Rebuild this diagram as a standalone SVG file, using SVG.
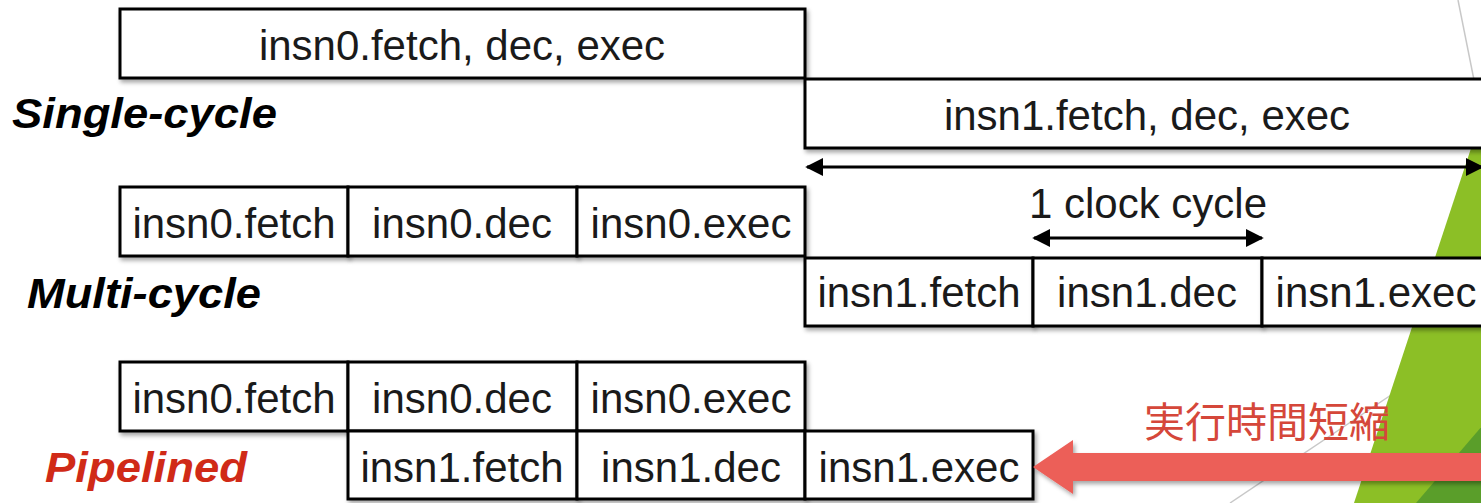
<svg xmlns="http://www.w3.org/2000/svg" width="1481" height="503" viewBox="0 0 1481 503">
<style>
.box{fill:#fff;stroke:#000;stroke-width:3;filter:url(#sh)}
.t{font-family:"Liberation Sans",Arial,sans-serif;font-size:42px;fill:#1a1a1a;text-anchor:middle}
.lbl{font-family:"Liberation Sans",Arial,sans-serif;font-size:43px;font-weight:bold;font-style:italic}
.conn{stroke:#000;stroke-width:3;fill:none}
</style>
<defs>
<filter id="sh" x="-10%" y="-20%" width="120%" height="150%">
<feDropShadow dx="2" dy="3" stdDeviation="2" flood-color="#000" flood-opacity="0.35"/>
</filter>
<marker id="ah" viewBox="0 0 10 10" refX="9" refY="5" markerWidth="6" markerHeight="6" orient="auto-start-reverse" markerUnits="strokeWidth">
<path d="M0,0 L10,5 L0,10 Z" fill="#000"/>
</marker>
</defs>
<g id="background">
<rect x="0" y="0" width="1481" height="503" fill="#fff"/>
<line x1="1458" y1="0" x2="1476" y2="90" stroke="#c8c8c8" stroke-width="1.5"/>
<line x1="1230" y1="503" x2="1400" y2="389" stroke="#c8c8c8" stroke-width="1.5"/>
<polygon points="1483,112 1483,503 1354,503" fill="#8cbf26"/>
<polygon points="1483,425 1483,503 1416,503" fill="#5a9e2a"/>
</g>
<g id="labels">
<text class="lbl" x="12" y="128" fill="#000" textLength="265" lengthAdjust="spacingAndGlyphs">Single-cycle</text>
<text class="lbl" x="27" y="308" fill="#000" textLength="234" lengthAdjust="spacingAndGlyphs">Multi-cycle</text>
<text class="lbl" x="45" y="482" fill="#d02a17" textLength="202" lengthAdjust="spacingAndGlyphs">Pipelined</text>
</g>
<g id="single-insn0"><rect class="box" x="120" y="9" width="685" height="69"/><text class="t" x="462" y="60">insn0.fetch, dec, exec</text></g>
<g id="single-insn1"><rect class="box" x="805" y="79" width="685" height="69"/><text class="t" x="1147" y="130">insn1.fetch, dec, exec</text></g>
<g id="multi-insn0-fetch"><rect class="box" x="120" y="187" width="228" height="69"/><text class="t" x="234" y="238">insn0.fetch</text></g>
<g id="multi-insn0-dec"><rect class="box" x="348" y="187" width="229" height="69"/><text class="t" x="462" y="238">insn0.dec</text></g>
<g id="multi-insn0-exec"><rect class="box" x="577" y="187" width="228" height="69"/><text class="t" x="691" y="238">insn0.exec</text></g>
<g id="multi-insn1-fetch"><rect class="box" x="805" y="258" width="228" height="68"/><text class="t" x="919" y="307">insn1.fetch</text></g>
<g id="multi-insn1-dec"><rect class="box" x="1033" y="258" width="229" height="68"/><text class="t" x="1147" y="307">insn1.dec</text></g>
<g id="multi-insn1-exec"><rect class="box" x="1262" y="258" width="228" height="68"/><text class="t" x="1376" y="307">insn1.exec</text></g>
<g id="pipe-insn0-fetch"><rect class="box" x="120" y="362" width="228" height="69"/><text class="t" x="234" y="413">insn0.fetch</text></g>
<g id="pipe-insn0-dec"><rect class="box" x="348" y="362" width="229" height="69"/><text class="t" x="462" y="413">insn0.dec</text></g>
<g id="pipe-insn0-exec"><rect class="box" x="577" y="362" width="228" height="69"/><text class="t" x="691" y="413">insn0.exec</text></g>
<g id="pipe-insn1-fetch"><rect class="box" x="348" y="431" width="229" height="68"/><text class="t" x="462" y="482">insn1.fetch</text></g>
<g id="pipe-insn1-dec"><rect class="box" x="577" y="431" width="228" height="68"/><text class="t" x="691" y="482">insn1.dec</text></g>
<g id="pipe-insn1-exec"><rect class="box" x="805" y="431" width="228" height="68"/><text class="t" x="919" y="482">insn1.exec</text></g>
<g id="connectors">
<line class="conn" x1="807" y1="167" x2="1482" y2="167" marker-start="url(#ah)" marker-end="url(#ah)"/>
<text class="t" x="1148" y="218">1 clock cycle</text>
<line class="conn" x1="1034" y1="238" x2="1262" y2="238" marker-start="url(#ah)" marker-end="url(#ah)"/>
<polygon points="1033,467 1073,440 1073,453 1490,453 1490,481 1073,481 1073,494" fill="#ec5f59" filter="url(#sh)"/>
<text x="1267" y="437" font-family="'Liberation Sans','Noto Sans CJK JP',sans-serif" font-size="41" fill="#d5473a" text-anchor="middle">実行時間短縮</text>
</g>
</svg>
